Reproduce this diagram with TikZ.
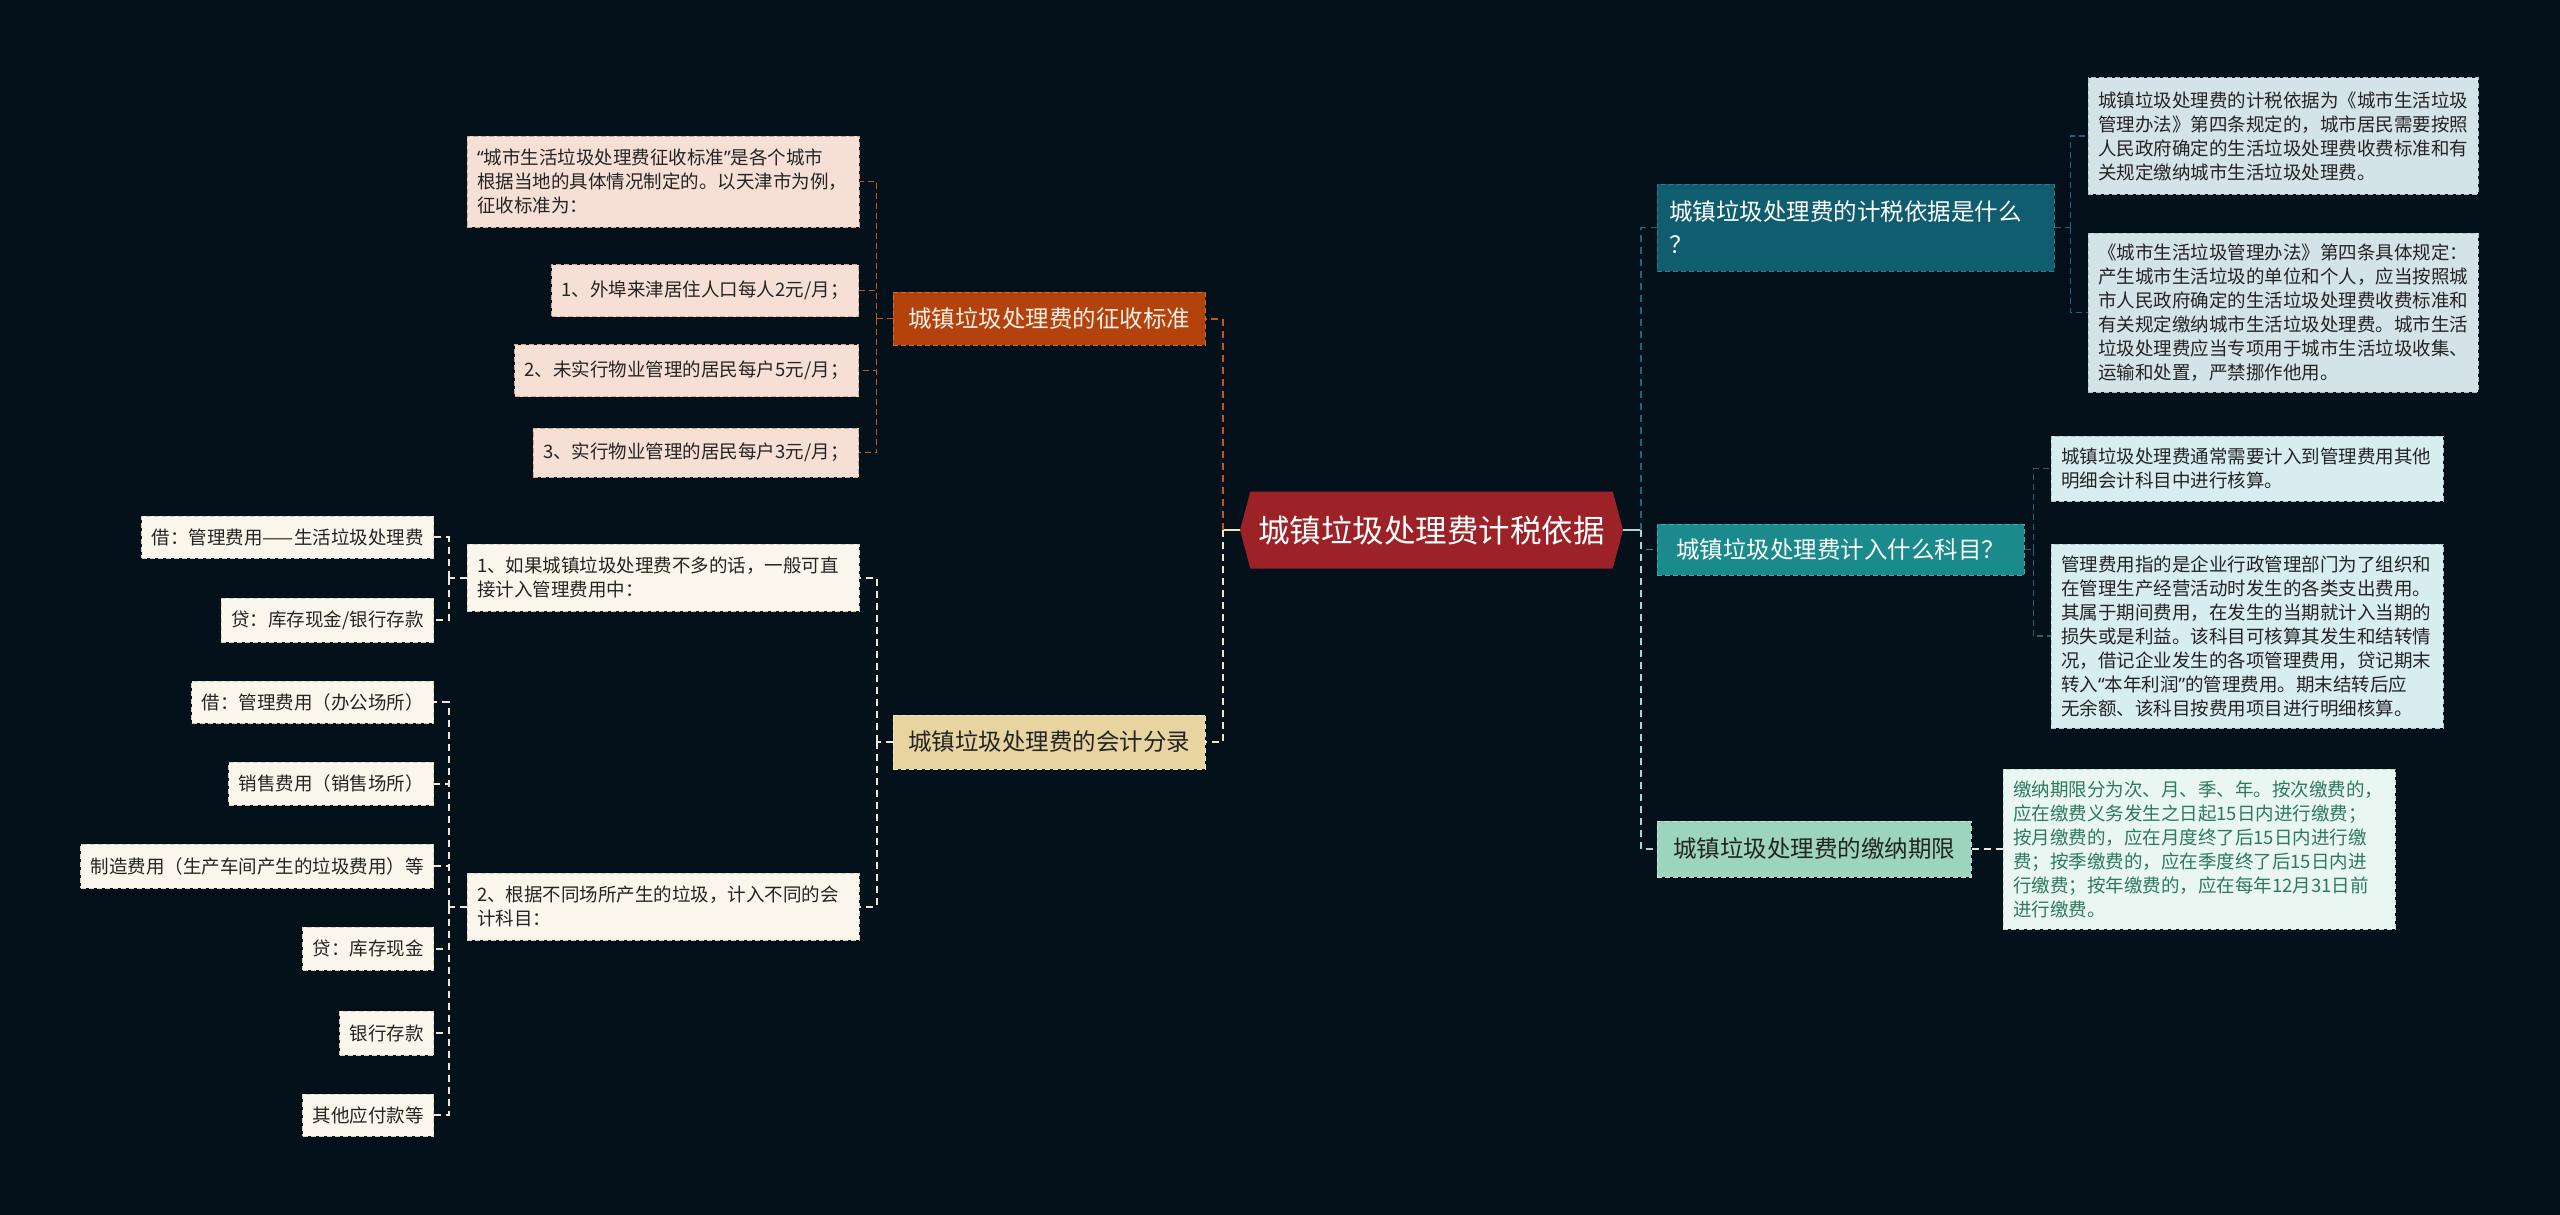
\documentclass[tikz,border=0pt]{standalone}
\usepackage{fontspec}
\setmainfont{Noto Sans CJK SC}
\newfontfamily\latq{Noto Sans}
\newcommand{\myLQ}{{\latq “}}
\newcommand{\myRQ}{{\latq ”}}
\usetikzlibrary{shapes.symbols}
\definecolor{bgc}{HTML}{04101A}
\definecolor{cred}{HTML}{9C2228}
\definecolor{zsfill}{HTML}{B4420C}
\definecolor{zsdraw}{HTML}{D2692E}
\definecolor{zstext}{HTML}{FBEFE6}
\definecolor{kjfill}{HTML}{E7D4A0}
\definecolor{kjdraw}{HTML}{F4E9C6}
\definecolor{ronefill}{HTML}{0F5D6F}
\definecolor{ronedraw}{HTML}{2A7E90}
\definecolor{rtwofill}{HTML}{1A8A8C}
\definecolor{rtwodraw}{HTML}{3BAAAA}
\definecolor{rthreefill}{HTML}{9CD4BE}
\definecolor{rthreedraw}{HTML}{C5EADC}
\definecolor{pinkfill}{HTML}{F6DFD5}
\definecolor{pinkdraw}{HTML}{C9A898}
\definecolor{creamfill}{HTML}{FBF6EC}
\definecolor{creamdraw}{HTML}{D8D2C2}
\definecolor{afill}{HTML}{D4E3E7}
\definecolor{adraw}{HTML}{AFC3C9}
\definecolor{bfill}{HTML}{D7EDF0}
\definecolor{bdraw}{HTML}{AECBD0}
\definecolor{cfill}{HTML}{EAF6F2}
\definecolor{cdraw}{HTML}{BFDCD1}
\definecolor{ctext}{HTML}{2E7A5C}
\definecolor{darktext}{HTML}{242424}
\definecolor{lorange}{HTML}{C8561A}
\definecolor{lcream}{HTML}{F1E6C0}
\definecolor{lwhite}{HTML}{EEE8D8}
\definecolor{ldteal}{HTML}{1D6677}
\definecolor{lteal}{HTML}{1F9393}
\definecolor{lmint}{HTML}{A6D9CF}
\begin{document}
\begin{tikzpicture}[x=1pt,y=-1pt,
  central/.style={shape=signal, signal to=west and east, signal pointer angle=150,
    fill=cred, text=white, minimum width=383pt, minimum height=77pt, inner sep=0pt,
    font=\fontsize{31.5}{36}\selectfont},
  subbox/.style={rectangle, inner xsep=12pt, inner ysep=0pt, dashed, dash pattern=on 5pt off 3pt,
    line width=1pt, font=\fontsize{23.5}{33}\selectfont},
  leafbox/.style={rectangle, inner xsep=10pt, inner ysep=0pt, dashed, dash pattern=on 5pt off 3pt,
    line width=1pt, font=\fontsize{18.5}{24}\selectfont},
  pinkleaf/.style={leafbox, fill=pinkfill, draw=pinkdraw, text=darktext},
  creamleaf/.style={leafbox, fill=creamfill, draw=creamdraw, text=darktext},
  aleaf/.style={leafbox, fill=afill, draw=adraw, text=darktext, text width=370pt, align=left},
  bleaf/.style={leafbox, fill=bfill, draw=bdraw, text=darktext, text width=372pt, align=left},
  cleaf/.style={leafbox, fill=cfill, draw=cdraw, text=ctext, text width=372pt, align=left},
  conn/.style={dashed, dash pattern=on 7pt off 5pt, line width=2pt},
  thinconn/.style={dashed, dash pattern=on 6pt off 4pt, line width=1.3pt},
]
\fill[bgc] (0,0) rectangle (2560,1215);
\useasboundingbox (0,0) rectangle (2560,1215);

% central
\node[central] (c) at (1431.5,530) {城镇垃圾处理费计税依据};

% main branches
\node[subbox, fill=zsfill, draw=zsdraw, text=zstext, minimum width=312pt, minimum height=53pt] (zs) at (1049,318.5) {城镇垃圾处理费的征收标准};
\node[subbox, fill=kjfill, draw=kjdraw, text=darktext, minimum width=312pt, minimum height=54pt] (kj) at (1049,742) {城镇垃圾处理费的会计分录};
\node[subbox, fill=ronefill, draw=ronedraw, text=white, text width=373pt, align=left, minimum height=87pt] (r1) at (1855.5,227.5) {城镇垃圾处理费的计税依据是什么\\？};
\node[subbox, fill=rtwofill, draw=rtwodraw, text=white, minimum width=367pt, minimum height=51pt] (r2) at (1840.5,549.5) {城镇垃圾处理费计入什么科目？};
\node[subbox, fill=rthreefill, draw=rthreedraw, text=darktext, minimum width=314pt, minimum height=56pt] (r3) at (1814,849) {城镇垃圾处理费的缴纳期限};

% right leaves
\node[aleaf, minimum height=116pt] (a1) at (2283,136) {城镇垃圾处理费的计税依据为《城市生活垃圾\\管理办法》第四条规定的，城市居民需要按照\\人民政府确定的生活垃圾处理费收费标准和有\\关规定缴纳城市生活垃圾处理费。};
\node[aleaf, minimum height=159pt] (a2) at (2283,312.5) {《城市生活垃圾管理办法》第四条具体规定：\\产生城市生活垃圾的单位和个人，应当按照城\\市人民政府确定的生活垃圾处理费收费标准和\\有关规定缴纳城市生活垃圾处理费。城市生活\\垃圾处理费应当专项用于城市生活垃圾收集、\\运输和处置，严禁挪作他用。};
\node[bleaf, minimum height=65pt] (b1) at (2247,468.5) {城镇垃圾处理费通常需要计入到管理费用其他\\明细会计科目中进行核算。};
\node[bleaf, minimum height=184pt] (b2) at (2247,636) {管理费用指的是企业行政管理部门为了组织和\\在管理生产经营活动时发生的各类支出费用。\\其属于期间费用，在发生的当期就计入当期的\\损失或是利益。该科目可核算其发生和结转情\\况，借记企业发生的各项管理费用，贷记期末\\转入\myLQ 本年利润\myRQ 的管理费用。期末结转后应\\无余额、该科目按费用项目进行明细核算。};
\node[cleaf, minimum height=160pt] (cc) at (2199,849) {缴纳期限分为次、月、季、年。按次缴费的，\\应在缴费义务发生之日起15日内进行缴费；\\按月缴费的，应在月度终了后15日内进行缴\\费；按季缴费的，应在季度终了后15日内进\\行缴费；按年缴费的，应在每年12月31日前\\进行缴费。};

% left leaves: 征收标准
\node[pinkleaf, text width=372pt, align=left, minimum height=91pt] (l1) at (663,181.5) {\myLQ 城市生活垃圾处理费征收标准\myRQ 是各个城市\\根据当地的具体情况制定的。以天津市为例，\\征收标准为：};
\node[pinkleaf, anchor=east, minimum height=52pt] (l2) at (859,290.5) {1、外埠来津居住人口每人2元/月；};
\node[pinkleaf, anchor=east, minimum height=52pt] (l3) at (859,370.5) {2、未实行物业管理的居民每户5元/月；};
\node[pinkleaf, anchor=east, minimum height=49pt] (l4) at (859,452.5) {3、实行物业管理的居民每户3元/月；};

% left leaves: 会计分录
\node[creamleaf, text width=372pt, align=left, minimum height=67pt] (m1) at (663,577.5) {1、如果城镇垃圾处理费不多的话，一般可直\\接计入管理费用中：};
\node[creamleaf, text width=372pt, align=left, minimum height=67pt] (m2) at (663,906.5) {2、根据不同场所产生的垃圾，计入不同的会\\计科目：};

\node[creamleaf, anchor=east, minimum height=42pt] (m11) at (434,537) {借：管理费用——生活垃圾处理费};
\node[creamleaf, anchor=east, minimum height=44pt] (m12) at (434,620) {贷：库存现金/银行存款};

\node[creamleaf, anchor=east, minimum height=42pt] (m21) at (434,702) {借：管理费用（办公场所）};
\node[creamleaf, anchor=east, minimum height=43pt] (m22) at (434,783.5) {销售费用（销售场所）};
\node[creamleaf, anchor=east, minimum height=44pt] (m23) at (434,866) {制造费用（生产车间产生的垃圾费用）等};
\node[creamleaf, anchor=east, minimum height=43pt] (m24) at (434,948.5) {贷：库存现金};
\node[creamleaf, anchor=east, minimum height=44pt] (m25) at (434,1033) {银行存款};
\node[creamleaf, anchor=east, minimum height=42pt] (m26) at (434,1115) {其他应付款等};

% central stubs
\draw[lcream, line width=2pt] (c.west) -- ++(-17,0) coordinate (ls);
\draw[lmint, line width=2pt] (c.east) -- ++(18,0) coordinate (rs);

% left main connectors
\draw[conn, lorange] (ls) |- (zs.east);
\draw[conn, lcream] (ls) |- (kj.east);

% right main connectors
\draw[conn, ldteal, line width=1.6pt] (rs) |- (r1.west);
\draw[conn, lteal, line width=1.6pt] (rs) |- (r2.west);
\draw[conn, lmint] (rs) |- (r3.west);

% 征收标准 leaves
\draw[thinconn, lorange, line width=1.6pt] (zs.west) -- ++(-16,0) coordinate (zsp);
\foreach \n in {l1,l2,l3,l4} \draw[thinconn, lorange, line width=1.6pt] (zsp) |- (\n.east);

% 会计分录 leaves
\draw[conn, lwhite] (kj.west) -- ++(-16,0) coordinate (kjp);
\foreach \n in {m1,m2} \draw[conn, lwhite] (kjp) |- (\n.east);

\draw[conn, lwhite] (m1.west) -- ++(-18,0) coordinate (m1p);
\foreach \n in {m11,m12} \draw[conn, lwhite] (m1p) |- (\n.east);

\draw[conn, lwhite] (m2.west) -- ++(-18,0) coordinate (m2p);
\foreach \n in {m21,m22,m23,m24,m25,m26} \draw[conn, lwhite] (m2p) |- (\n.east);

% right leaves
\draw[thinconn, ldteal] (r1.east) -- ++(16,0) coordinate (r1p);
\foreach \n in {a1,a2} \draw[thinconn, ldteal] (r1p) |- (\n.west);

\draw[thinconn, ldteal] (r2.east) -- ++(9,0) coordinate (r2p);
\foreach \n in {b1,b2} \draw[thinconn, ldteal] (r2p) |- (\n.west);

\draw[conn, lwhite] (r3.east) -- (cc.west);
\end{tikzpicture}
\end{document}
